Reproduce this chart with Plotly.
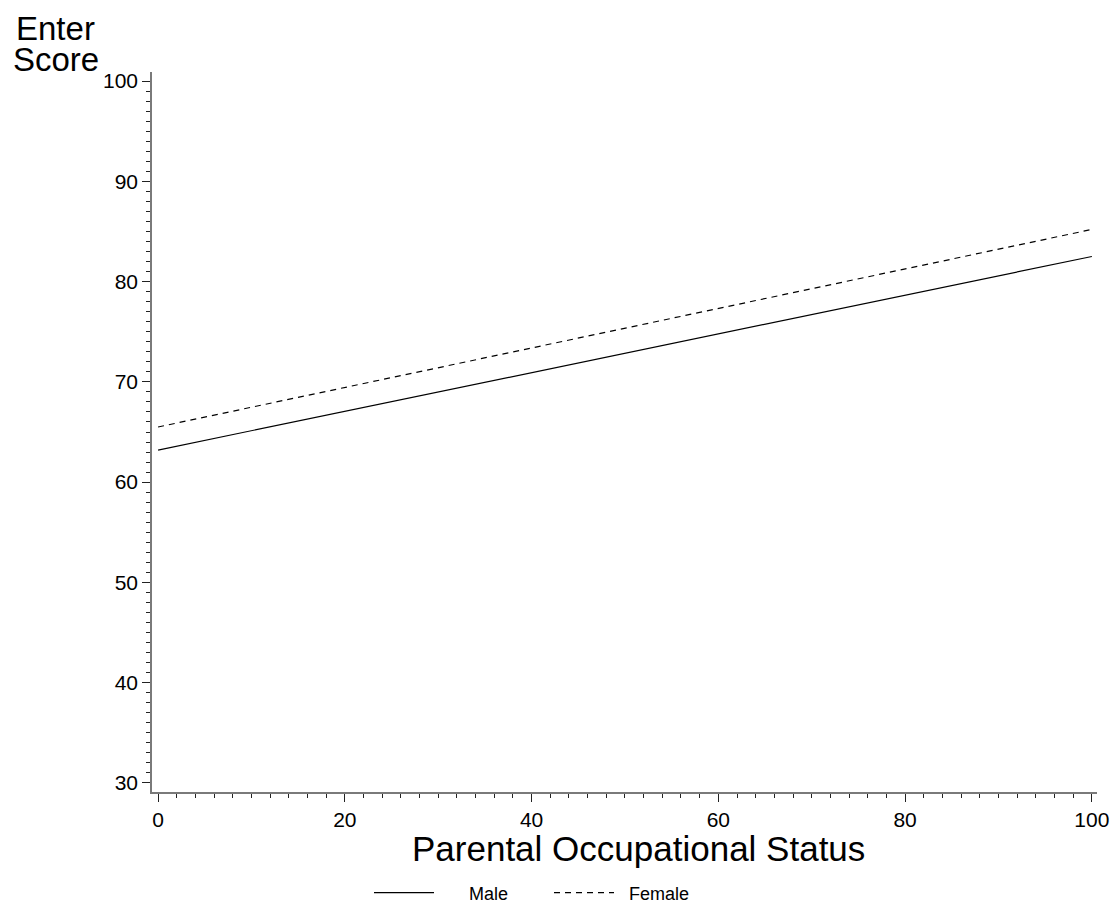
import plotly.graph_objects as go

# Predicted Enter score across parental occupational status, by sex
status = [0, 100]
male_score = [63.2, 82.5]
female_score = [65.5, 85.2]
series_names = ["Male", "Female"]

FONT = "Liberation Sans, Arial, Helvetica, sans-serif"
NBSP = "\u00a0"

fig = go.Figure()
fig.add_trace(go.Scatter(
    x=status, y=male_score, mode="lines", name=NBSP * 6 + series_names[0],
    line=dict(color="black", width=1.2),
))
fig.add_trace(go.Scatter(
    x=status, y=female_score, mode="lines", name=NBSP * 2 + series_names[1],
    line=dict(color="black", width=1.2, dash="6px,5px"),
))

axis_common = dict(
    showline=True, linecolor="#7a7a7a", linewidth=1.5,
    showgrid=False, zeroline=False, automargin=False,
    ticks="outside", tickcolor="#222", tickwidth=1.2, ticklen=8,
    tickfont=dict(family=FONT, size=21, color="black"),
)

fig.update_xaxes(
    range=[-0.65, 100.55], tick0=0, dtick=20,
    minor=dict(ticks="outside", dtick=2, ticklen=4, tickcolor="#222", tickwidth=1.2),
    **axis_common,
)
fig.update_yaxes(
    range=[29.1, 100.9], tick0=30, dtick=10,
    minor=dict(ticks="outside", dtick=1, ticklen=4, tickcolor="#222", tickwidth=1.2),
    **axis_common,
)

# Axis titles
fig.add_annotation(text="Parental Occupational Status", xref="paper", yref="paper",
                   x=0.515, y=-0.078, xanchor="center", yanchor="middle", showarrow=False,
                   font=dict(family=FONT, size=35, color="black"))
fig.add_annotation(text="Enter", xref="paper", yref="paper", x=-0.102, y=1.061,
                   xanchor="center", yanchor="middle", showarrow=False,
                   font=dict(family=FONT, size=33, color="black"))
fig.add_annotation(text="Score", xref="paper", yref="paper", x=-0.102, y=1.018,
                   xanchor="center", yanchor="middle", showarrow=False,
                   font=dict(family=FONT, size=33, color="black"))

fig.update_layout(
    width=1112, height=904,
    margin=dict(l=152, r=15, t=72, b=112),
    paper_bgcolor="white", plot_bgcolor="white",
    showlegend=True,
    legend=dict(orientation="h", xref="container", yref="container",
                x=369 / 1112, y=11 / 904, xanchor="left", yanchor="middle",
                font=dict(family=FONT, size=18, color="black"),
                entrywidth=105, itemwidth=60, bgcolor="rgba(0,0,0,0)"),
)

fig.write_html("out.html")
